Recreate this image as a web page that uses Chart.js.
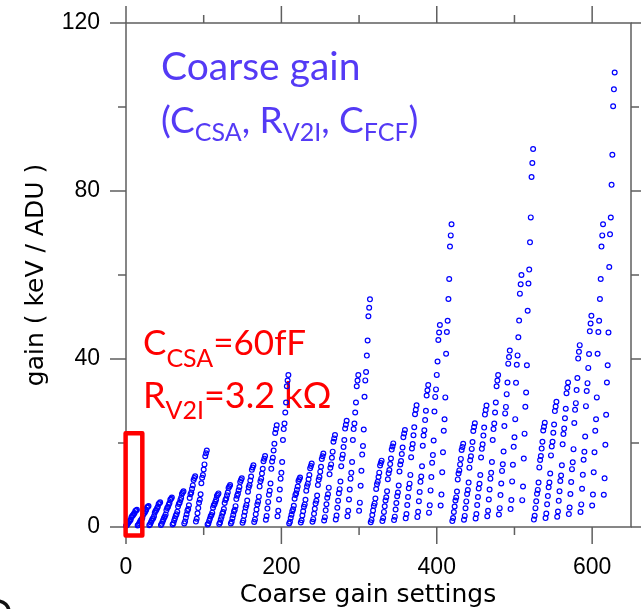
<!DOCTYPE html>
<html>
<head>
<meta charset="utf-8">
<title>Coarse gain settings</title>
<script src="https://cdn.jsdelivr.net/npm/chart.js@4.4.1/dist/chart.umd.min.js"></script>
<style>
  html, body { margin: 0; padding: 0; background: #fff; }
  #gainChart { display: block; }
</style>
</head>
<body>
<canvas id="gainChart" width="641" height="609"></canvas>
<script>
// Gain (keV / ADU) for each coarse gain setting.
// One array per block of 105 settings, each block is 7 runs of 15 settings.
const gainGroup1 = [
  0.29, 0.44, 0.74, 1.01, 1.30, 1.46, 1.75, 2.35, 2.64, 2.79, 3.09, 3.36, 3.80, 3.95, 4.10,
  0.36, 0.54, 0.91, 1.24, 1.59, 1.78, 2.14, 2.86, 3.22, 3.41, 3.77, 4.10, 4.63, 4.82, 5.00,
  0.42, 0.63, 1.07, 1.46, 1.88, 2.10, 2.53, 3.37, 3.80, 4.02, 4.44, 4.83, 5.46, 5.68, 5.90,
  0.50, 0.75, 1.27, 1.73, 2.23, 2.49, 3.00, 4.00, 4.51, 4.77, 5.27, 5.73, 6.48, 6.74, 7.00,
  0.60, 0.91, 1.54, 2.10, 2.70, 3.03, 3.64, 4.86, 5.47, 5.79, 6.40, 6.96, 7.87, 8.19, 8.50,
  0.86, 1.29, 2.19, 2.99, 3.85, 4.31, 5.18, 6.92, 7.79, 8.24, 9.11, 9.91, 11.20, 11.65, 12.10,
  1.29, 1.95, 3.29, 4.50, 5.79, 6.48, 7.79, 10.41, 11.72, 12.39, 13.70, 14.91, 16.85, 17.53, 18.20
];
const gainGroup2 = [
  0.57, 0.86, 1.45, 1.98, 2.54, 2.85, 3.42, 4.58, 5.15, 5.45, 6.02, 6.55, 7.41, 7.70, 8.00,
  0.71, 1.07, 1.81, 2.47, 3.18, 3.56, 4.28, 5.72, 6.44, 6.81, 7.53, 8.19, 9.26, 9.63, 10.00,
  0.82, 1.24, 2.10, 2.87, 3.69, 4.13, 4.96, 6.64, 7.47, 7.90, 8.73, 9.50, 10.74, 11.17, 11.60,
  1.04, 1.57, 2.66, 3.63, 4.67, 5.23, 6.29, 8.41, 9.47, 10.01, 11.07, 12.04, 13.61, 14.16, 14.70,
  1.20, 1.81, 3.06, 4.17, 5.37, 6.02, 7.23, 9.67, 10.88, 11.51, 12.73, 13.84, 15.65, 16.27, 16.90,
  1.72, 2.59, 4.38, 5.98, 7.70, 8.62, 10.36, 13.84, 15.58, 16.48, 18.22, 19.82, 22.41, 23.30, 24.20,
  2.57, 3.87, 6.55, 8.94, 11.51, 12.89, 15.49, 20.71, 23.31, 24.65, 27.26, 29.65, 33.52, 34.86, 36.20
];
const gainGroup3 = [
  0.84, 1.26, 2.14, 2.91, 3.75, 4.20, 5.05, 6.75, 7.60, 8.04, 8.89, 9.66, 10.93, 11.36, 11.80,
  1.07, 1.62, 2.73, 3.73, 4.80, 5.38, 6.46, 8.64, 9.72, 10.28, 11.37, 12.37, 13.98, 14.54, 15.10,
  1.24, 1.87, 3.17, 4.32, 5.57, 6.23, 7.49, 10.01, 11.27, 11.92, 13.18, 14.33, 16.21, 16.85, 17.50,
  1.55, 2.34, 3.96, 5.41, 6.96, 7.80, 9.37, 12.53, 14.10, 14.91, 16.49, 17.94, 20.28, 21.09, 21.90,
  1.80, 2.71, 4.58, 6.25, 8.05, 9.01, 10.83, 14.47, 16.29, 17.23, 19.05, 20.72, 23.43, 24.36, 25.30,
  2.57, 3.87, 6.55, 8.94, 11.51, 12.89, 15.49, 20.71, 23.31, 24.65, 27.26, 29.65, 33.52, 34.86, 36.20,
  3.85, 5.80, 9.81, 13.39, 17.24, 19.30, 23.20, 31.00, 34.90, 36.91, 40.81, 44.39, 50.19, 52.19, 54.20
];
const gainGroup4 = [
  1.12, 1.69, 2.86, 3.90, 5.02, 5.62, 6.76, 9.04, 10.18, 10.76, 11.90, 12.94, 14.63, 15.22, 15.80,
  1.41, 2.13, 3.60, 4.92, 6.33, 7.08, 8.52, 11.38, 12.82, 13.55, 14.98, 16.30, 18.43, 19.16, 19.90,
  1.64, 2.47, 4.18, 5.71, 7.35, 8.22, 9.89, 13.21, 14.88, 15.73, 17.39, 18.92, 21.39, 22.25, 23.10,
  2.06, 3.10, 5.25, 7.16, 9.22, 10.32, 12.41, 16.59, 18.68, 19.75, 21.84, 23.75, 26.85, 27.93, 29.00,
  2.40, 3.62, 6.12, 8.35, 10.75, 12.03, 14.47, 19.33, 21.77, 23.02, 25.45, 27.68, 31.30, 32.55, 33.80,
  3.42, 5.15, 8.71, 11.88, 15.30, 17.12, 20.59, 27.51, 30.98, 32.76, 36.22, 39.39, 44.54, 46.32, 48.10,
  5.12, 7.71, 13.05, 17.81, 22.93, 25.67, 30.86, 41.24, 46.43, 49.10, 54.29, 59.05, 66.76, 69.43, 72.10
];
const gainGroup5 = [
  1.41, 2.12, 3.58, 4.89, 6.30, 7.05, 8.47, 11.33, 12.75, 13.48, 14.91, 16.22, 18.33, 19.07, 19.80,
  1.75, 2.64, 4.47, 6.10, 7.85, 8.79, 10.57, 14.13, 15.91, 16.82, 18.60, 20.23, 22.87, 23.79, 24.70,
  2.05, 3.09, 5.23, 7.14, 9.19, 10.29, 12.37, 16.53, 18.61, 19.68, 21.76, 23.67, 26.76, 27.83, 28.90,
  2.57, 3.87, 6.55, 8.94, 11.51, 12.89, 15.49, 20.71, 23.31, 24.65, 27.26, 29.65, 33.52, 34.86, 36.20,
  2.98, 4.49, 7.60, 10.37, 13.36, 14.95, 17.98, 24.02, 27.05, 28.60, 31.63, 34.40, 38.89, 40.45, 42.00,
  4.26, 6.42, 10.86, 14.82, 19.08, 21.36, 25.68, 34.32, 38.64, 40.86, 45.18, 49.14, 55.56, 57.78, 60.00,
  6.39, 9.63, 16.29, 22.23, 28.62, 32.04, 38.52, 51.48, 57.96, 61.29, 67.77, 73.71, 83.34, 86.67, 90.00
];
const gainGroup6 = [
  1.76, 2.65, 4.49, 6.13, 7.89, 8.83, 10.61, 14.19, 15.97, 16.89, 18.67, 20.31, 22.96, 23.88, 24.80,
  2.12, 3.19, 5.39, 7.36, 9.48, 10.61, 12.75, 17.05, 19.19, 20.29, 22.44, 24.41, 27.59, 28.70, 29.80,
  2.44, 3.68, 6.23, 8.50, 10.94, 12.25, 14.72, 19.68, 22.15, 23.43, 25.90, 28.17, 31.85, 33.13, 34.40,
  3.07, 4.63, 7.84, 10.70, 13.77, 15.41, 18.53, 24.77, 27.89, 29.49, 32.60, 35.46, 40.10, 41.70, 43.30,
  3.57, 5.38, 9.10, 12.42, 16.00, 17.91, 21.53, 28.77, 32.39, 34.25, 37.88, 41.20, 46.58, 48.44, 50.30,
  5.12, 7.71, 13.05, 17.81, 22.93, 25.67, 30.86, 41.24, 46.43, 49.10, 54.29, 59.05, 66.76, 69.43, 72.10,
  7.68, 11.58, 19.58, 26.73, 34.41, 38.52, 46.31, 61.89, 69.68, 73.68, 81.47, 88.62, 100.19, 104.20, 108.20
];

// first setting number of each block
const groupStart = [0, 105, 210, 315, 420, 525];

const xTickLabels = [0, 200, 400, 600];
const xMinorTicks = [100, 300, 500];
const yTickLabels = [0, 40, 80, 120];
const yMinorTicks = [20, 60, 100];

const gainGroups = [gainGroup1, gainGroup2, gainGroup3, gainGroup4, gainGroup5, gainGroup6];
const gainPoints = [];
gainGroups.forEach((group, g) => {
    group.forEach((gain, i) => gainPoints.push({ x: groupStart[g] + i, y: gain }));
});

const BLUE_TEXT = 'rgb(84, 58, 245)';
const RED = '#ff0000';
const AXIS_GREY = '#5f5f5f';

/**
 * Writes a line made of normal and subscript pieces, left to right
 */
function drawRichText(ctx, parts, x, y, size, subSize, subDrop) {
    parts.forEach(([text, isSub]) => {
        ctx.font = `${isSub ? subSize : size}px Lato`;
        ctx.fillText(text, x, isSub ? y + subDrop : y);
        x += ctx.measureText(text).width;
    });
}

/**
 * Frame, tick marks, x title and the two text boxes
 */
const framePlugin = {
    id: 'frame',
    beforeDatasetsDraw(chart) {
        const { ctx, chartArea: a, scales: { x, y } } = chart;
        ctx.save();

        ctx.strokeStyle = AXIS_GREY;
        ctx.lineWidth = 1.5;
        ctx.strokeRect(a.left, a.top, a.right - a.left, a.bottom - a.top);

        ctx.beginPath();
        const xTick = (v, len) => {
            const p = x.getPixelForValue(v);
            ctx.moveTo(p, a.bottom); ctx.lineTo(p, a.bottom + len);
            ctx.moveTo(p, a.top); ctx.lineTo(p, a.top - len);
        };
        const yTick = (v, len) => {
            const p = y.getPixelForValue(v);
            ctx.moveTo(a.left, p); ctx.lineTo(a.left - len, p);
            ctx.moveTo(a.right, p); ctx.lineTo(a.right + len, p);
        };
        xTickLabels.forEach(v => xTick(v, 17));
        xMinorTicks.forEach(v => xTick(v, 8));
        yTickLabels.forEach(v => yTick(v, 16));
        yMinorTicks.forEach(v => yTick(v, 8));
        ctx.stroke();

        // x axis title
        ctx.fillStyle = '#000';
        ctx.font = '25px "DejaVu Sans"';
        ctx.textAlign = 'center';
        ctx.textBaseline = 'alphabetic';
        ctx.fillText('Coarse gain settings', 368, 602);

        ctx.textAlign = 'left';
        ctx.fillStyle = BLUE_TEXT;
        drawRichText(ctx, [['Coarse gain', false]], 161, 80, 39, 25, 8);
        drawRichText(ctx, [['(C', false], ['CSA', true], [', R', false], ['V2I', true],
            [', C', false], ['FCF', true], [')', false]], 161, 133, 37, 25, 8);

        ctx.fillStyle = RED;
        drawRichText(ctx, [['C', false], ['CSA', true], ['=60fF', false]], 143, 355, 35, 25, 12);
        drawRichText(ctx, [['R', false], ['V2I', true], ['=3.2 kΩ', false]], 143, 408, 36, 25, 11);

        // dark mark in the lower left corner
        ctx.strokeStyle = '#111';
        ctx.lineWidth = 3.5;
        ctx.beginPath();
        ctx.arc(-2, 612, 11, -Math.PI / 2, 0);
        ctx.stroke();

        ctx.restore();
    },
    afterDatasetsDraw(chart) {
        const { ctx, scales: { x, y } } = chart;
        // box round the first run of settings
        const left = x.getPixelForValue(-0.5);
        const right = x.getPixelForValue(21);
        const top = y.getPixelForValue(22.3);
        const bottom = y.getPixelForValue(-2);
        ctx.save();
        ctx.strokeStyle = RED;
        ctx.lineWidth = 4.5;
        ctx.lineJoin = 'round';
        ctx.strokeRect(left, top, right - left, bottom - top);
        ctx.restore();
    }
};

const ctx = document.getElementById('gainChart').getContext('2d');
const gainChart = new Chart(ctx, {
    type: 'scatter',
    data: {
        datasets: [{
            label: 'gain',
            data: gainPoints,
            pointStyle: 'circle',
            pointRadius: 2.4,
            borderWidth: 1.2,
            borderColor: '#0000ff',
            backgroundColor: 'rgba(0,0,0,0)',
            clip: false
        }]
    },
    options: {
        responsive: false,
        animation: false,
        devicePixelRatio: 1,
        layout: { padding: { top: 23, right: 10, left: 0, bottom: 0 } },
        plugins: {
            legend: { display: false },
            tooltip: { enabled: false }
        },
        scales: {
            x: {
                type: 'linear',
                position: 'bottom',
                min: 0,
                max: 650,
                afterBuildTicks: s => { s.ticks = xTickLabels.map(v => ({ value: v })); },
                afterFit: s => { s.height = 82; s.paddingLeft = 0; s.paddingRight = 0; },
                grid: { display: false, drawTicks: false },
                border: { display: false },
                ticks: {
                    padding: 27,
                    color: '#000',
                    maxRotation: 0,
                    font: { family: '"Liberation Sans", Arial', size: 23 }
                }
            },
            y: {
                type: 'linear',
                min: 0,
                max: 120,
                afterBuildTicks: s => { s.ticks = yTickLabels.map(v => ({ value: v })); },
                afterFit: s => { s.width = 126; s.paddingTop = 0; s.paddingBottom = 0; },
                grid: { display: false, drawTicks: false },
                border: { display: false },
                ticks: {
                    padding: 26,
                    color: '#000',
                    font: { family: '"Liberation Sans", Arial', size: 23 }
                },
                title: {
                    display: true,
                    text: 'gain ( keV / ADU )',
                    color: '#000',
                    font: { family: '"DejaVu Sans"', size: 25 },
                    padding: { top: 21, bottom: 0 }
                }
            }
        }
    },
    plugins: [framePlugin]
});
</script>
</body>
</html>
